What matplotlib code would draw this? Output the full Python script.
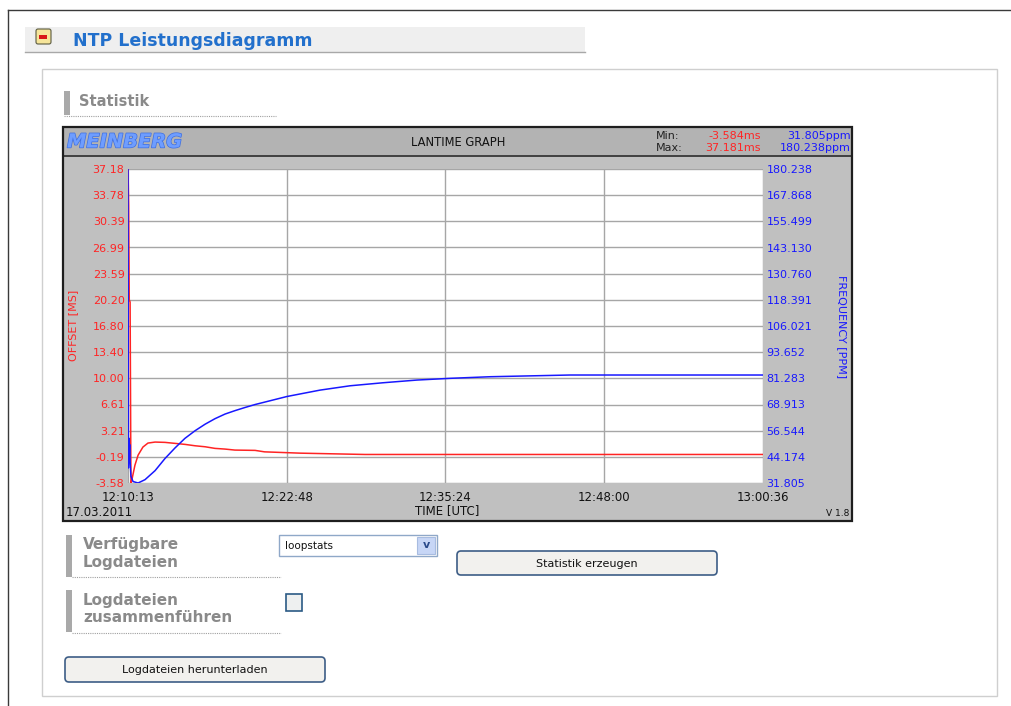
import matplotlib
matplotlib.use("Agg")
import matplotlib.pyplot as plt
import matplotlib.transforms as mtransforms
from matplotlib.patches import Rectangle, FancyBboxPatch
from matplotlib.lines import Line2D
import matplotlib.patheffects as pe
import numpy as np

# ---- data -------------------------------------------------------------
# seconds since the first sample (12:10:13 UTC)
offset_t = [0, 3, 6, 10, 14, 18, 33, 48, 71, 95, 129, 176, 224, 271, 319,
            367, 414, 462, 509, 605, 650, 820, 1128, 1800, 3023]
offset_ms = [37.18, 32.5, 20.2, 19.9, -3.58, -3.23, -1.27, 0.03, 1.08, 1.60,
             1.73, 1.69, 1.56, 1.43, 1.25, 1.12, 0.91, 0.82, 0.69, 0.65,
             0.46, 0.29, 0.12, 0.12, 0.12]

freq_t = [0, 2, 4, 6, 8, 10, 14, 24, 48, 81, 129, 176, 224, 271, 319, 367,
          414, 462, 509, 557, 605, 757, 914, 1057, 1214, 1376, 1533, 1723,
          2104, 3023]
freq_ppm = [180.24, 38.9, 53.0, 44.0, 50.0, 42.0, 35.0, 32.5, 31.81, 33.38,
            37.66, 43.37, 48.40, 52.90, 56.50, 59.60, 62.20, 64.40, 66.00,
            67.50, 68.90, 72.70, 75.71, 77.76, 79.19, 80.47, 81.28, 82.04,
            82.85, 82.85]

offset_min, offset_max = -3.584, 37.181
freq_min, freq_max = 31.805, 180.238
span_s = 3023

time_labels = ["12:10:13", "12:22:48", "12:35:24", "12:48:00", "13:00:36"]
offset_labels = ["-3.58", "-0.19", "3.21", "6.61", "10.00", "13.40", "16.80",
                 "20.20", "23.59", "26.99", "30.39", "33.78", "37.18"]
freq_labels = ["31.805", "44.174", "56.544", "68.913", "81.283", "93.652",
               "106.021", "118.391", "130.760", "143.130", "155.499",
               "167.868", "180.238"]
date_label = "17.03.2011"

RED = "#ff2424"
BLUE = "#1818ff"

# ---- figure and a pixel coordinate system (origin top-left) -----------
W, H = 1012, 706
fig = plt.figure(figsize=(W / 100, H / 100), dpi=100)
fig.patch.set_facecolor("white")
px = mtransforms.Affine2D().scale(1 / W, -1 / H).translate(0, 1) + fig.transFigure


def box(x0, y0, x1, y1, z=-5, **kw):
    fig.add_artist(Rectangle((x0, y0), x1 - x0, y1 - y0, transform=px,
                             zorder=z, **kw))


def rbox(x0, y0, x1, y1, r=4, z=-4, **kw):
    fig.add_artist(FancyBboxPatch((x0, y0), x1 - x0, y1 - y0,
                                  boxstyle=f"round,pad=0,rounding_size={r}",
                                  transform=px, zorder=z, **kw))


def line(xs, ys, z=-3, **kw):
    fig.add_artist(Line2D(xs, ys, transform=px, zorder=z, **kw))


def text(x, y, s, **kw):
    kw.setdefault("va", "center")
    fig.text(x, y, s, transform=px, **kw)


# page frame
line([8, 1012], [10, 10], color="#3a3a3a", lw=1.0)
line([8, 8], [10, 706], color="#3a3a3a", lw=1.0)

# section header
box(25, 27, 585, 52, facecolor="#efefef", edgecolor="none")
line([25, 585], [52, 52], color="#a8a8a8", lw=1.0)
rbox(36, 29, 51, 44, r=2, facecolor="#f6e59a", edgecolor="#5a5a40", lw=0.8)
box(39.5, 35, 47.5, 38.5, z=-3, facecolor="#d81818", edgecolor="none")
text(73, 41, "NTP Leistungsdiagramm", color="#2270cc", fontsize=12.5,
     fontweight="bold", family="DejaVu Sans")

# content panel
box(42, 69, 997, 696, facecolor="none", edgecolor="#cfcfcf", lw=1.0)

# "Statistik" subheading
box(64, 91, 70, 115, facecolor="#a9a9a9", edgecolor="none")
text(79, 101, "Statistik", color="#8a8a8a", fontsize=10.5, fontweight="bold")
line([64, 276], [116, 116], color="#a0a0a0", lw=0.8, ls=(0, (1, 1)))

# ---- graph frame ------------------------------------------------------
box(63, 127, 852, 521, facecolor="#c0c0c0", edgecolor="none", z=-6)
box(63, 127, 852, 155, facecolor="#b3b3b3", edgecolor="none")
line([63, 852], [155.5, 155.5], color="#2a2a2a", lw=1.2)
box(63, 127, 852, 521, facecolor="none", edgecolor="#1e1e1e", lw=1.6, z=-2)

text(67, 142, "MEINBERG", color="#6e9dff", fontsize=14, fontweight="bold",
     style="italic", family="DejaVu Sans",
     path_effects=[pe.withStroke(linewidth=1.0, foreground="#3f6fe0")])
text(458, 142, "LANTIME GRAPH", color="#111111", fontsize=8.3, ha="center")
text(656, 136, "Min:", color="#222222", fontsize=8)
text(656, 148, "Max:", color="#222222", fontsize=8)
text(761, 136, f"{offset_min:.3f}ms", color=RED, fontsize=8, ha="right")
text(761, 148, f"{offset_max:.3f}ms", color=RED, fontsize=8, ha="right")
text(851, 136, f"{freq_min:.3f}ppm", color=BLUE, fontsize=8, ha="right")
text(851, 148, f"{freq_max:.3f}ppm", color=BLUE, fontsize=8, ha="right")

# ---- plot area --------------------------------------------------------
ax = fig.add_axes([128 / W, 1 - 483 / H, (763 - 128) / W, (483 - 169) / H])
ax.set_facecolor("white")
ax.set_xlim(0, span_s)
ax.set_ylim(offset_min, offset_max)
xt = np.linspace(0, span_s, len(time_labels))
ax.set_xticks(xt)
ax.set_xticklabels(time_labels)
ax.set_yticks(np.linspace(offset_min, offset_max, len(offset_labels)))
ax.set_yticklabels(offset_labels)
ax.grid(True, color="#a6a6a6", lw=1.0)
ax.set_axisbelow(True)
for s in ax.spines.values():
    s.set_visible(False)
ax.tick_params(axis="y", length=0, pad=2.5, labelcolor=RED, labelsize=8)
ax.tick_params(axis="x", length=0, pad=6, labelcolor="#111111", labelsize=8.5)
ax.plot(offset_t, offset_ms, color=RED, lw=1.1, solid_joinstyle="round")

ax2 = ax.twinx()
ax2.set_ylim(freq_min, freq_max)
ax2.set_yticks(np.linspace(freq_min, freq_max, len(freq_labels)))
ax2.set_yticklabels(freq_labels)
for s in ax2.spines.values():
    s.set_visible(False)
ax2.tick_params(axis="y", length=0, pad=2.5, labelcolor=BLUE, labelsize=8)
ax2.plot(freq_t, freq_ppm, color=BLUE, lw=1.1, solid_joinstyle="round")

text(73, 325, "OFFSET [MS]", color=RED, fontsize=8, rotation=90, ha="center")
text(842, 327, "FREQUENCY [PPM]", color=BLUE, fontsize=8, rotation=270,
     ha="center")
text(66, 513, date_label, color="#111111", fontsize=8.5)
text(447, 511, "TIME [UTC]", color="#111111", fontsize=8.5, ha="center")
text(849, 514, "V 1.8", color="#111111", fontsize=6.5, ha="right")

# ---- form controls ----------------------------------------------------
box(66, 535, 72, 577, facecolor="#a9a9a9", edgecolor="none")
text(83, 545, "Verfügbare", color="#8a8a8a", fontsize=11, fontweight="bold")
text(83, 563, "Logdateien", color="#8a8a8a", fontsize=11, fontweight="bold")
line([72, 281], [577, 577], color="#a0a0a0", lw=0.8, ls=(0, (1, 1)))

box(279, 535, 437, 556, facecolor="white", edgecolor="#8fa8c8", lw=1.0)
box(417, 537, 435, 554, z=-3, facecolor="#c7d6f6", edgecolor="#a8bce0", lw=0.8)
text(426, 545, "v", color="#2a4a8a", fontsize=8, fontweight="bold", ha="center")
text(285, 546, "loopstats", color="#111111", fontsize=7.5)

rbox(457, 551, 717, 575, r=4, facecolor="#f2f1ee", edgecolor="#3d5d86", lw=1.2)
text(587, 564, "Statistik erzeugen", color="#111111", fontsize=8, ha="center")

box(66, 590, 72, 632, facecolor="#a9a9a9", edgecolor="none")
text(83, 600, "Logdateien", color="#8a8a8a", fontsize=11, fontweight="bold")
text(83, 618, "zusammenführen", color="#8a8a8a", fontsize=11, fontweight="bold")
line([72, 281], [633, 633], color="#a0a0a0", lw=0.8, ls=(0, (1, 1)))

box(286, 594, 302, 611, facecolor="#eef0f0", edgecolor="#2b5a85", lw=1.2)

rbox(65, 657, 325, 682, r=4, facecolor="#f2f1ee", edgecolor="#3d5d86", lw=1.2)
text(195, 670, "Logdateien herunterladen", color="#111111", fontsize=8,
     ha="center")

fig.savefig("out.png", dpi=100, facecolor="white")
